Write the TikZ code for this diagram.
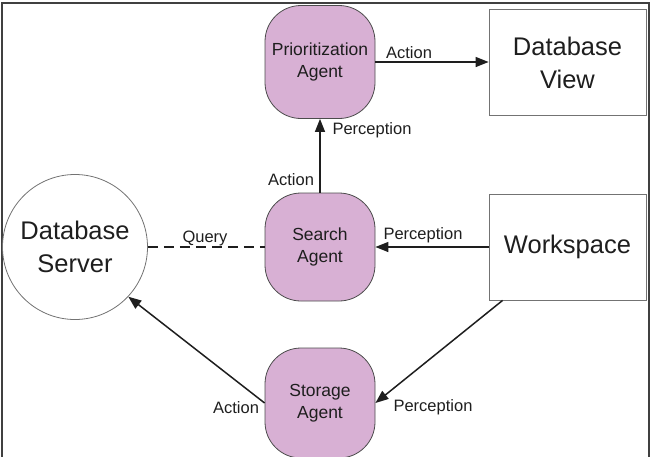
\documentclass[tikz,border=0pt]{standalone}
\usepackage{fontspec}
\setmainfont{Liberation Sans}
\usetikzlibrary{arrows.meta,calc}
\definecolor{agentpink}{RGB}{216,176,212}
\definecolor{inkc}{RGB}{30,30,30}
\begin{document}
\begin{tikzpicture}[x=1pt,y=-1pt,
 agentbox/.style={draw=black!70, fill=agentpink, rounded corners=36pt, minimum width=110pt, minimum height=110pt, align=center, font=\fontsize{17.5}{22}\selectfont, text=inkc, line width=0.8pt, inner sep=0pt},
 bigbox/.style={draw=black!55, minimum width=157pt, minimum height=106pt, align=center, font=\fontsize{25.5}{33}\selectfont, text=inkc, line width=0.8pt},
 lbl/.style={font=\fontsize{16.5}{20}\selectfont, text=inkc, inner sep=0pt},
 conn/.style={line width=1.5pt, draw=inkc},
 tip/.style={-{Triangle[length=13pt,width=10pt]}}
]
\useasboundingbox (0,0) rectangle (651,456);
\draw[line width=2pt, black!75] (1.5,470) -- (1.5,2.5) -- (648.5,2.5) -- (648.5,470);

\node[agentbox, minimum height=113pt] (prio) at (320,62) {Prioritization\\Agent};
\node[bigbox] (view) at (567.5,62.5) {Database\\View};
\node[agentbox, minimum height=108pt] (search) at (320,247) {Search\\Agent};
\node[bigbox] (work) at (567.5,247) {Workspace};
\node[circle, draw=black!55, line width=0.8pt, minimum size=145pt, inner sep=0pt, align=center, font=\fontsize{25.5}{33}\selectfont, text=inkc] (server) at (75,247) {Database\\Server};
\node[agentbox] (store) at (320,403) {Storage\\Agent};

\draw[conn,tip] (prio.east) -- (prio.east -| view.west);
\draw[conn,tip] (search.north) -- (prio.south);
\draw[conn,dash pattern=on 10pt off 6pt] (server.east) -- (search.west);
\draw[conn,tip] (work.west) -- (search.east);
\draw[conn,tip] (store.west) -- (server.-43);
\draw[conn,tip] ($(work.south west)+(14,0)$) -- (store.east);

\node[lbl] (l1) at (409,53) {Action};
\node[lbl] (l2) at (372,130) {Perception};
\node[lbl] (l3) at (291,180) {Action};
\node[lbl] (l4) at (205,238) {Query};
\node[lbl] (l5) at (423,235) {Perception};
\node[lbl] (l6) at (236,408) {Action};
\node[lbl] (l7) at (433,407) {Perception};
\end{tikzpicture}
\end{document}
